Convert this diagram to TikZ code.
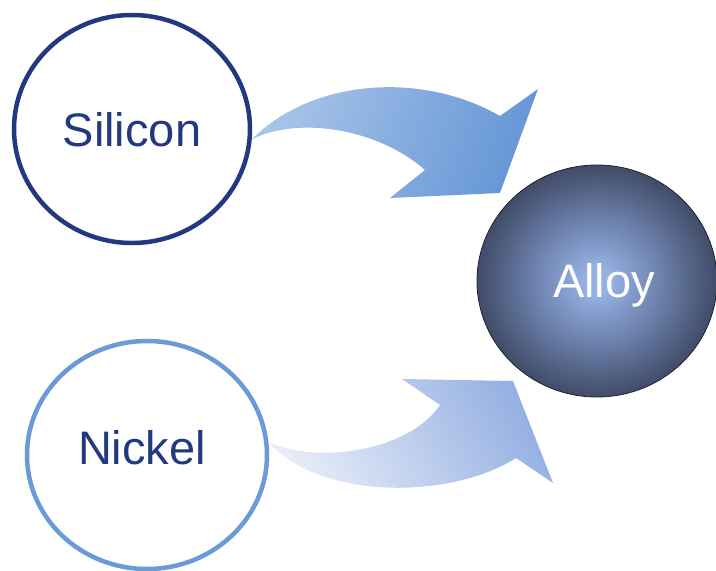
\documentclass[tikz,border=0pt]{standalone}
\usepackage{fontspec}
\setmainfont{Liberation Sans}
\usetikzlibrary{shapes.geometric}
\definecolor{navy}{HTML}{22397F}
\definecolor{lightring}{HTML}{6A9BD8}
\definecolor{alloyin}{HTML}{95B0E2}
\definecolor{alloymid}{HTML}{6A7EA9}
\definecolor{alloydeep}{HTML}{44506D}
\definecolor{alloyout}{HTML}{2E3850}
\definecolor{arrAlight}{HTML}{A9C4E9}
\definecolor{arrAdark}{HTML}{6697D6}
\definecolor{arrBlight}{HTML}{E6ECF8}
\definecolor{arrBdark}{HTML}{95B0E2}
\pgfdeclareradialshading{alloyshade}{\pgfpoint{0bp}{0bp}}{color(0bp)=(alloyin); color(3bp)=(alloyin); color(14bp)=(alloymid); color(24bp)=(alloydeep); color(31bp)=(alloyout); color(100bp)=(alloyout)}
\tikzset{
  ring/.style={ellipse, line width=4.5pt, fill=white, inner sep=0pt,
    minimum width=236pt, minimum height=228pt},
  ringtext/.style={font=\fontsize{47}{56}\selectfont, text=navy, inner sep=0pt},
  alloyball/.style={ellipse, inner sep=0pt, minimum width=240pt, minimum height=232pt,
    shading=alloyshade, draw=alloyout!60!black, line width=0.8pt},
  alloytext/.style={font=\fontsize{47}{56}\selectfont, text=white, inner sep=0pt},
}
\begin{document}
\begin{tikzpicture}[x=1pt,y=-1pt]
\useasboundingbox (0,0) rectangle (716,571);
% circles
\node[ring, draw=navy] (silicon) at (132,129) {};
\node[ringtext] (siliconlabel) at ([yshift=-1pt]silicon.center) {Silicon};
\node[ring, draw=lightring, minimum width=240pt] (nickel) at (147,455) {};
\node[ringtext] (nickellabel) at ([xshift=-5pt,yshift=7pt]nickel.center) {Nickel};
\node[alloyball] (alloy) at (597,281) {};
\node[alloytext] (alloylabel) at ([xshift=7pt,yshift=-4pt]alloy.center) {Alloy};
% top curved block arrow
\shade[left color=arrAlight, right color=arrAdark, shading angle=70]
  (silicon.-5) .. controls (310,80) and (420,70) .. (500,116)
  -- (538,89) -- (500,193) -- (390,198) -- (425,170)
  .. controls (380,130) and (300,115) .. (silicon.-5) -- cycle;
% bottom curved block arrow
\shade[left color=arrBlight, right color=arrBdark, shading angle=120]
  (nickel.6) .. controls (320,465) and (410,450) .. (440,405)
  -- (402,379) -- (513,381) -- (553,483) -- (516,458)
  .. controls (450,500) and (320,500) .. (nickel.6) -- cycle;
\end{tikzpicture}
\end{document}
